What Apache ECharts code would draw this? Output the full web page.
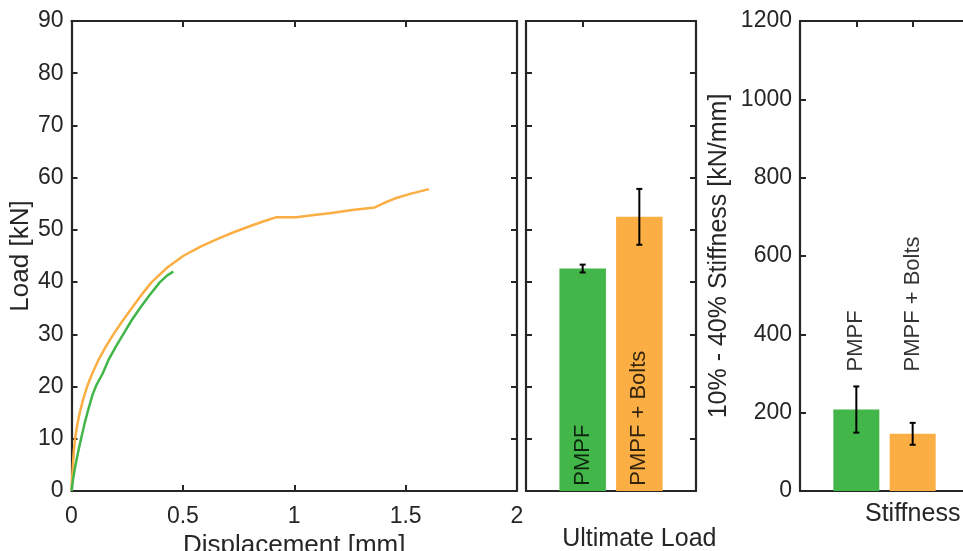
<!DOCTYPE html>
<html>
<head>
<meta charset="utf-8">
<script src="https://cdn.jsdelivr.net/npm/echarts@6/dist/echarts.min.js"></script>
<style>html,body{margin:0;padding:0;background:#fff}#c{width:963px;height:551px}</style>
</head>
<body>
<div id="c"></div>
<script>
// ---- data ----
const dispBolts = [0, 0.005, 0.01, 0.016, 0.025, 0.037, 0.052, 0.07, 0.093, 0.12, 0.152, 0.188, 0.228, 0.27, 0.315, 0.36, 0.43, 0.501, 0.575, 0.651, 0.725, 0.80, 0.86, 0.917, 1.01, 1.08, 1.159, 1.26, 1.361, 1.40, 1.451, 1.52, 1.605];
const loadBolts = [0, 4, 7.5, 10, 12.5, 15, 17.5, 20, 22.5, 25, 27.5, 30, 32.5, 35, 37.6, 40, 42.8, 45, 46.7, 48.2, 49.5, 50.7, 51.6, 52.4, 52.4, 52.8, 53.2, 53.8, 54.3, 55.1, 56.0, 56.9, 57.8];
const dispPMPF = [0, 0.008, 0.018, 0.03, 0.043, 0.058, 0.076, 0.095, 0.112, 0.14, 0.165, 0.197, 0.232, 0.27, 0.307, 0.35, 0.397, 0.43, 0.457];
const loadPMPF = [0, 2.5, 5, 7.5, 10, 12.8, 15.7, 18.5, 20.3, 22.5, 25, 27.5, 30, 32.7, 35, 37.5, 40, 41.3, 42.0];
const groups = ['PMPF', 'PMPF + Bolts'];
const ultimateLoad = [42.6, 52.5];
const ultimateLoadErr = [0.75, 5.35];
const stiffness = [208, 146];
const stiffnessErr = [59, 28];
const dispTicks = ['0', '0.5', '1', '1.5', '2'];
const loadTicks = ['0','10','20','30','40','50','60','70','80','90'];
const stiffTicks = ['0','200','400','600','800','1000','1200'];
const panelLabels = ['Ultimate Load', 'Stiffness'];
const axisTitles = ['Displacement [mm]', 'Load [kN]', '10% - 40% Stiffness [kN/mm]'];

// ---- style ----
const GREEN = '#43B649';
const ORANGE = '#FBAE43';
const TXT = '#262626';
const FONT = 'Liberation Sans';
const colors = [GREEN, ORANGE];
const lineStyleAxis = {color: TXT, width: 2.2};
const tickIn = {show: true, inside: true, length: 6, lineStyle: {color: TXT, width: 2}};
const lbl = (extra) => Object.assign({color: TXT, fontFamily: FONT, fontSize: 23}, extra || {});

const chart = echarts.init(document.getElementById('c'), null, {renderer: 'canvas'});

function errRender(params, api) {
  const x = api.value(0), y = api.value(1), e = api.value(2);
  const t = api.coord([x, y + e]);
  const b = api.coord([x, y - e]);
  const hw = 3;
  const st = {stroke: '#000', lineWidth: 2};
  return {type: 'group', children: [
    {type: 'line', shape: {x1: t[0], y1: t[1], x2: b[0], y2: b[1]}, style: st},
    {type: 'line', shape: {x1: t[0] - hw, y1: t[1], x2: t[0] + hw, y2: t[1]}, style: st},
    {type: 'line', shape: {x1: b[0] - hw, y1: b[1], x2: b[0] + hw, y2: b[1]}, style: st}
  ]};
}

const option = {
  animation: false,
  backgroundColor: '#fff',
  grid: [
    {left: 71.5, top: 21, width: 445.5, height: 470, containLabel: false, outerBoundsMode: 'none'},
    {left: 526, top: 21, width: 170, height: 470, containLabel: false, outerBoundsMode: 'none'},
    {left: 800, top: 21, width: 169, height: 470, containLabel: false, outerBoundsMode: 'none'}
  ],
  xAxis: [
    {gridIndex: 0, type: 'value', min: 0, max: 2, interval: 0.5, position: 'bottom',
     axisLine: {show: true, lineStyle: lineStyleAxis}, axisTick: tickIn, splitLine: {show: false},
     axisLabel: lbl({margin: 14, formatter: (v) => dispTicks[Math.round(v / 0.5)]}),
     name: axisTitles[0], nameLocation: 'middle', nameGap: 37, nameTextStyle: lbl({fontSize: 26})},
    {gridIndex: 0, type: 'value', min: 0, max: 2, interval: 0.5, position: 'top',
     axisLine: {show: true, onZero: false, lineStyle: lineStyleAxis}, axisTick: tickIn, axisLabel: {show: false}, splitLine: {show: false}},
    {gridIndex: 1, type: 'value', min: 0, max: 3, interval: 1, position: 'bottom',
     axisLine: {show: true, lineStyle: lineStyleAxis}, axisTick: {show: false}, splitLine: {show: false},
     axisLabel: lbl({margin: 36, fontSize: 25, formatter: (v) => v === 2 ? panelLabels[0] : ''})},
    {gridIndex: 1, type: 'value', min: 0, max: 3, interval: 1, position: 'top',
     axisLine: {show: true, onZero: false, lineStyle: lineStyleAxis},
     axisTick: Object.assign({}, tickIn, {customValues: [1]}), axisLabel: {show: false}, splitLine: {show: false}},
    {gridIndex: 2, type: 'value', min: 0, max: 3, interval: 1, position: 'bottom',
     axisLine: {show: true, lineStyle: lineStyleAxis}, axisTick: {show: false}, splitLine: {show: false},
     axisLabel: lbl({margin: 11, fontSize: 25, formatter: (v) => v === 2 ? panelLabels[1] : ''})},
    {gridIndex: 2, type: 'value', min: 0, max: 3, interval: 1, position: 'top',
     axisLine: {show: true, onZero: false, lineStyle: lineStyleAxis}, axisTick: tickIn, axisLabel: {show: false}, splitLine: {show: false}}
  ],
  yAxis: [
    {gridIndex: 0, type: 'value', min: 0, max: 90, interval: 10, position: 'left',
     axisLine: {show: true, lineStyle: lineStyleAxis}, axisTick: tickIn, splitLine: {show: false},
     axisLabel: lbl({margin: 8, formatter: (v) => loadTicks[Math.round(v / 10)]}),
     name: axisTitles[1], nameLocation: 'middle', nameGap: 37, nameTextStyle: lbl({fontSize: 26})},
    {gridIndex: 0, type: 'value', min: 0, max: 90, interval: 10, position: 'right',
     axisLine: {show: true, onZero: false, lineStyle: lineStyleAxis}, axisTick: tickIn, axisLabel: {show: false}, splitLine: {show: false}},
    {gridIndex: 1, type: 'value', min: 0, max: 90, interval: 10, position: 'left',
     axisLine: {show: true, onZero: false, lineStyle: lineStyleAxis}, axisTick: tickIn, axisLabel: {show: false}, splitLine: {show: false}},
    {gridIndex: 1, type: 'value', min: 0, max: 90, interval: 10, position: 'right',
     axisLine: {show: true, onZero: false, lineStyle: lineStyleAxis}, axisTick: tickIn, axisLabel: {show: false}, splitLine: {show: false}},
    {gridIndex: 2, type: 'value', min: 0, max: 1200, interval: 200, position: 'left',
     axisLine: {show: true, onZero: false, lineStyle: lineStyleAxis}, axisTick: tickIn, splitLine: {show: false},
     axisLabel: lbl({margin: 8, formatter: (v) => stiffTicks[Math.round(v / 200)]}),
     name: axisTitles[2], nameLocation: 'middle', nameGap: 68, nameTextStyle: lbl({fontSize: 25})}
  ],
  series: [
    {type: 'line', xAxisIndex: 0, yAxisIndex: 0, symbol: 'none', smooth: false,
     data: dispBolts.map((d, i) => [d, loadBolts[i]]), lineStyle: {color: ORANGE, width: 2.5}, z: 3},
    {type: 'line', xAxisIndex: 0, yAxisIndex: 0, symbol: 'none', smooth: false,
     data: dispPMPF.map((d, i) => [d, loadPMPF[i]]), lineStyle: {color: GREEN, width: 2.5}, z: 4},
    {type: 'bar', xAxisIndex: 2, yAxisIndex: 2, barWidth: 46.5,
     data: ultimateLoad.map((v, i) => ({value: [i + 1, v], itemStyle: {color: colors[i]}}))},
    {type: 'custom', xAxisIndex: 2, yAxisIndex: 2, renderItem: errRender, z: 5,
     encode: {x: 0, y: 1}, data: ultimateLoad.map((v, i) => [i + 1, v, ultimateLoadErr[i]])},
    {type: 'scatter', xAxisIndex: 2, yAxisIndex: 2, symbolSize: 0, z: 6,
     data: groups.map((g, i) => ({value: [i + 1, 1.0], name: g})),
     label: {show: true, position: [0, 0], rotate: 90, align: 'left', verticalAlign: 'middle',
       formatter: (p) => p.name, color: '#000', fontFamily: FONT, fontSize: 22}},
    {type: 'bar', xAxisIndex: 4, yAxisIndex: 4, barWidth: 46,
     data: stiffness.map((v, i) => ({value: [i + 1, v], itemStyle: {color: colors[i]}}))},
    {type: 'custom', xAxisIndex: 4, yAxisIndex: 4, renderItem: errRender, z: 5,
     encode: {x: 0, y: 1}, data: stiffness.map((v, i) => [i + 1, v, stiffnessErr[i]])},
    {type: 'scatter', xAxisIndex: 4, yAxisIndex: 4, symbolSize: 0, z: 6,
     data: groups.map((g, i) => ({value: [i + 1, 305], name: g})),
     label: {show: true, position: [0, 0], rotate: 90, align: 'left', verticalAlign: 'middle',
       formatter: (p) => p.name, color: '#000', fontFamily: FONT, fontSize: 22}}
  ]
};
chart.setOption(option);
</script>
</body>
</html>
